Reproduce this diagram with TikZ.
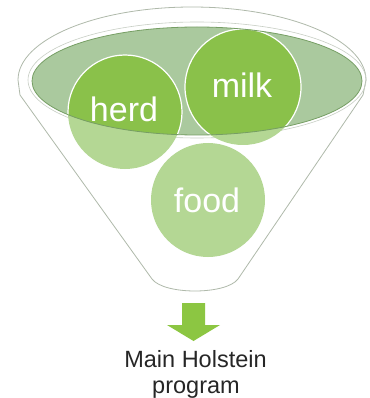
\documentclass[tikz,border=0pt]{standalone}
\usepackage{fontspec}
\setmainfont{Liberation Sans}
\definecolor{brightgreen}{RGB}{138,193,74}
\definecolor{lightgreen}{RGB}{180,215,148}
\definecolor{ellfill}{RGB}{170,201,158}
\definecolor{elledge}{RGB}{118,158,100}
\definecolor{rimgray}{RGB}{175,185,170}
\definecolor{arrowgreen}{RGB}{140,198,66}
\tikzset{
  funnelline/.style={draw=rimgray, line width=0.8pt, fill=white},
  balltext/.style={text=white, font=\fontsize{34}{38}\selectfont, inner sep=0pt},
  outtext/.style={text=black!85, font=\fontsize{23.5}{26}\selectfont, align=center, inner sep=0pt},
}
\begin{document}
\begin{tikzpicture}[x=1pt,y=-1pt]
\useasboundingbox (0,0) rectangle (369,398);
% funnel body
\draw[funnelline] (18,80) arc[start angle=180, end angle=360, x radius=174, y radius=73]
  -- (363,95) -- (238,279) .. controls (226,295) and (164,295) .. (152,279) -- (20,95) -- cycle;
% inner rim line
\draw[rimgray!70, line width=0.6pt] (197,80) ellipse[x radius=169, y radius=58];
% green ellipse
\fill[ellfill] (197,81) ellipse[x radius=165, y radius=54];
% circles (light, outside the ellipse)
\coordinate (herdc) at (125,112);
\coordinate (milkc) at (243,87);
\coordinate (foodc) at (208,200);
\fill[lightgreen] (herdc) circle[radius=57];
\fill[lightgreen] (milkc) circle[radius=58];
\fill[lightgreen] (foodc) circle[radius=57];
% circles inside ellipse
\begin{scope}
  \clip (197,81) ellipse[x radius=165, y radius=54];
  \fill[brightgreen, draw=white, line width=1.2pt] (herdc) circle[radius=57];
  \fill[brightgreen, draw=white, line width=1.2pt] (milkc) circle[radius=58];
\end{scope}
\draw[elledge, line width=0.8pt] (197,81) ellipse[x radius=165, y radius=54];
% labels
\node[balltext, anchor=base] (herd) at (124,122) {herd};
\node[balltext, anchor=base] (milk) at (242,98) {milk};
\node[balltext, anchor=base] (food) at (207,212) {food};
% arrow
\fill[arrowgreen] (182,303) -- (205,303) -- (205,325) -- (220,325) -- (193.5,341) -- (167,325) -- (182,325) -- cycle;
% output text
\node[outtext, anchor=base] (main) at (195.5,367) {Main Holstein};
\node[outtext, anchor=base] (prog) at (196,393) {program};
\end{tikzpicture}
\end{document}
